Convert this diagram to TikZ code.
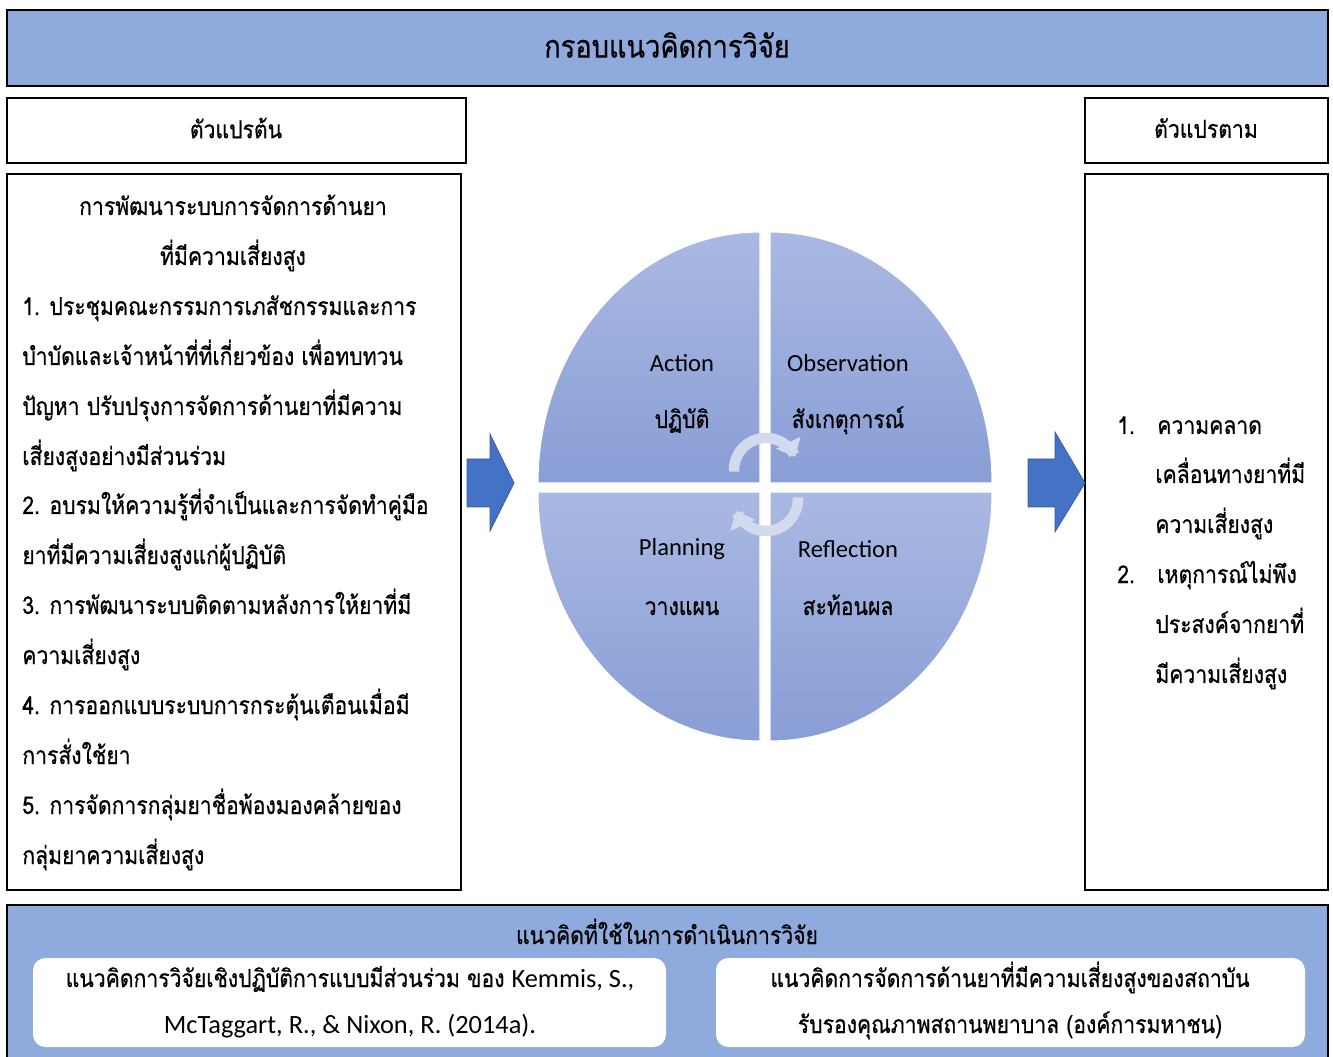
\documentclass[tikz,border=0pt]{standalone}
\usepackage{fontspec}
\setmainfont{Carlito}
\newfontfamily\thai[Script=Thai,FakeStretch=0.86,FakeBold=0.6]{Loma}
\usetikzlibrary{arrows.meta,fit}
\definecolor{hdr}{HTML}{8FAADC}
\definecolor{arr}{HTML}{4472C4}
\definecolor{qtop}{HTML}{AAB9E2}
\definecolor{qbot}{HTML}{899ED6}
\definecolor{cyc}{HTML}{D3DAEE}
\begin{document}
\begin{tikzpicture}[x=0.02cm,y=-0.02cm,
  box/.style={draw=black, line width=1.6pt, inner sep=0pt},
  th/.style={font=\thai\fontsize{14}{17}\selectfont, inner sep=0pt},
  thtitle/.style={font=\thai\fontsize{18}{22}\selectfont, inner sep=0pt},
  en/.style={font=\fontsize{14}{17}\selectfont, inner sep=0pt},
  enb/.style={font=\fontsize{15}{18}\selectfont, inner sep=0pt},
  quad/.style={top color=qtop, bottom color=qbot, draw=white, line width=0.6pt},
  bigarrow/.style={fill=arr, draw=arr!80!black, line width=0.4pt},
  cycarrow/.style={draw=cyc, line width=6pt, -{Triangle[length=9pt,width=15pt]}},
  wbox/.style={fill=white, rounded corners=7pt, inner sep=0pt}]
\useasboundingbox (0,0) rectangle (1333,1057);
\fill[white] (0,0) rectangle (1333,1057);

% title
\coordinate (t1) at (7,10); \coordinate (t2) at (1328,86);
\node (title) [box, fill=hdr, fit=(t1)(t2)] {};
\node (titletext) [thtitle] at (667,45) {กรอบแนวคิดการวิจัย};

% left header and box
\coordinate (lh1) at (7,98); \coordinate (lh2) at (466,163);
\node (lhead) [box, fit=(lh1)(lh2)] {};
\node (lheadtext) [th] at (236,128) {ตัวแปรต้น};
\coordinate (lb1) at (7,174); \coordinate (lb2) at (461,890);
\node (lbox) [box, fit=(lb1)(lb2)] {};

% right header and box
\coordinate (rh1) at (1085,98); \coordinate (rh2) at (1328,163);
\node (rhead) [box, fit=(rh1)(rh2)] {};
\node (rheadtext) [th] at (1206,128) {ตัวแปรตาม};
\coordinate (rb1) at (1085,174); \coordinate (rb2) at (1328,890);
\node (rbox) [box, fit=(rb1)(rb2)] {};

% left box text
\node (l0) [th, anchor=base] at (233,215) {การพัฒนาระบบการจัดการด้านยา};
\node (l1) [th, anchor=base] at (233,265) {ที่มีความเสี่ยงสูง};
\node (l2) [th, anchor=base west] at (22,315) {1. ประชุมคณะกรรมการเภสัชกรรมและการ};
\node (l3) [th, anchor=base west] at (22,365) {บำบัดและเจ้าหน้าที่ที่เกี่ยวข้อง เพื่อทบทวน};
\node (l4) [th, anchor=base west] at (22,415) {ปัญหา ปรับปรุงการจัดการด้านยาที่มีความ};
\node (l5) [th, anchor=base west] at (22,465) {เสี่ยงสูงอย่างมีส่วนร่วม};
\node (l6) [th, anchor=base west] at (22,514) {2. อบรมให้ความรู้ที่จำเป็นและการจัดทำคู่มือ};
\node (l7) [th, anchor=base west] at (22,564) {ยาที่มีความเสี่ยงสูงแก่ผู้ปฏิบัติ};
\node (l8) [th, anchor=base west] at (22,614) {3. การพัฒนาระบบติดตามหลังการให้ยาที่มี};
\node (l9) [th, anchor=base west] at (22,664) {ความเสี่ยงสูง};
\node (l10) [th, anchor=base west] at (22,714) {4. การออกแบบระบบการกระตุ้นเตือนเมื่อมี};
\node (l11) [th, anchor=base west] at (22,764) {การสั่งใช้ยา};
\node (l12) [th, anchor=base west] at (22,814) {5. การจัดการกลุ่มยาชื่อพ้องมองคล้ายของ};
\node (l13) [th, anchor=base west] at (22,864) {กลุ่มยาความเสี่ยงสูง};

% right box text
\node (r0n) [th, anchor=base west] at (1117,434) {1.};
\node (r0) [th, anchor=base west] at (1157,434) {ความคลาด};
\node (r1) [th, anchor=base west] at (1155,483) {เคลื่อนทางยาที่มี};
\node (r2) [th, anchor=base west] at (1155,533) {ความเสี่ยงสูง};
\node (r3n) [th, anchor=base west] at (1117,583) {2.};
\node (r3) [th, anchor=base west] at (1157,583) {เหตุการณ์ไม่พึง};
\node (r4) [th, anchor=base west] at (1155,633) {ประสงค์จากยาที่};
\node (r5) [th, anchor=base west] at (1155,683) {มีความเสี่ยงสูง};

% big arrows
\fill[bigarrow] (467,459) -- (490,459) -- (490,434) -- (514,483) -- (490,531) -- (490,507) -- (467,507) -- cycle;
\fill[bigarrow] (1028,459) -- (1055,459) -- (1055,432) -- (1085,483) -- (1055,532) -- (1055,507) -- (1028,507) -- cycle;

% cycle quadrants
\shade[quad] (760,483) -- (538,483) .. controls (538,344.4) and (637.4,232) .. (760,232) -- cycle;
\shade[quad] (770,483) -- (770,232) .. controls (892.6,232) and (992,344.4) .. (992,483) -- cycle;
\shade[quad] (760,492) -- (538,492) .. controls (538,629.5) and (637.4,741) .. (760,741) -- cycle;
\shade[quad] (770,492) -- (992,492) .. controls (992,629.5) and (892.6,741) .. (770,741) -- cycle;

% cycle arrows
\draw[cycarrow] plot[domain=183:24, smooth, samples=25] ({766+32*cos(\x)},{470-32*sin(\x)});
\draw[cycarrow] plot[domain=3:-158, smooth, samples=25] ({766+32*cos(\x)},{499-32*sin(\x)});

% quadrant labels
\node (qa) [en] at (682,363) {Action};
\node (qat) [th, anchor=base] at (682,428) {ปฏิบัติ};
\node (qo) [en] at (848,363) {Observation};
\node (qot) [th, anchor=base] at (848,428) {สังเกตุการณ์};
\node (qp) [en] at (682,549) {Planning};
\node (qpt) [th, anchor=base] at (682,615) {วางแผน};
\node (qr) [en] at (848,549) {Reflection};
\node (qrt) [th, anchor=base] at (848,615) {สะท้อนผล};

% bottom box
\fill[hdr] (7,905) rectangle (1328,1057);
\draw[line width=1.6pt] (7,1057) -- (7,905) -- (1328,905) -- (1328,1057);
\node (btitle) [th, anchor=base] at (667,944) {แนวคิดที่ใช้ในการดำเนินการวิจัย};
\coordinate (w1a) at (33,958); \coordinate (w1b) at (666,1047);
\node (wl) [wbox, fit=(w1a)(w1b)] {};
\coordinate (w2a) at (716,958); \coordinate (w2b) at (1305,1047);
\node (wr) [wbox, fit=(w2a)(w2b)] {};
\node (wl1) [th, anchor=base] at (350,987) {แนวคิดการวิจัยเชิงปฏิบัติการแบบมีส่วนร่วม ของ {\fontspec{Carlito}\fontsize{15}{18}\selectfont Kemmis, S.,}};
\node (wl2) [enb, anchor=base] at (350,1033) {McTaggart, R., \& Nixon, R. (2014a).};
\node (wr1) [th, anchor=base] at (1010,987) {แนวคิดการจัดการด้านยาที่มีความเสี่ยงสูงของสถาบัน};
\node (wr2) [th, anchor=base] at (1010,1033) {รับรองคุณภาพสถานพยาบาล (องค์การมหาชน)};
\end{tikzpicture}
\end{document}
